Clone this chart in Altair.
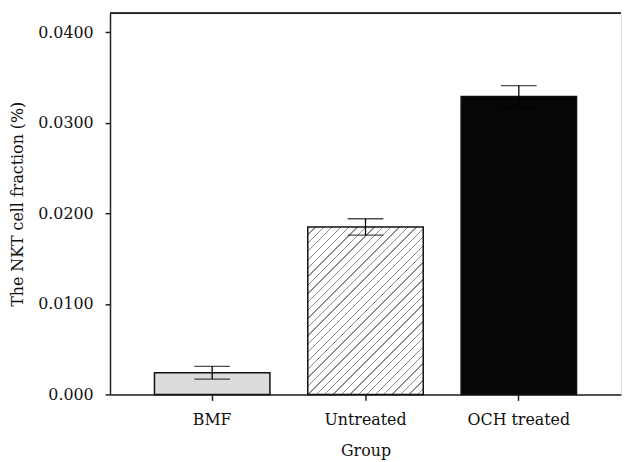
import altair as alt
import pandas as pd

groups = ["BMF", "Untreated", "OCH treated"]
means = [0.0024, 0.0185, 0.0329]
errors = [0.0007, 0.0009, 0.0012]
y_ticks = [0.0, 0.01, 0.02, 0.03, 0.04]

W, H = 516, 385
YMAX = 0.0421
PI, PO = 0.247, 0.29
FONT = "DejaVu Serif"

df = pd.DataFrame({"group": groups, "mean": means, "err": errors})
df["lo"] = df["mean"] - df["err"]
df["hi"] = df["mean"] + df["err"]

xsc = alt.Scale(domain=groups, paddingInner=PI, paddingOuter=PO)
ysc = alt.Scale(domain=[0, YMAX], nice=False, zero=True)

x_enc = alt.X("group:N", scale=xsc, sort=groups,
              axis=alt.Axis(title="Group", labelAngle=0, labelFont=FONT, labelFontSize=16,
                            titleFont=FONT, titleFontSize=16, titleFontWeight="normal",
                            labelColor="#111", titleColor="#111", domainColor="#222",
                            domainWidth=1.5, tickColor="#222", tickWidth=1.5, tickSize=6,
                            labelPadding=11, titlePadding=16))
y_enc = alt.Y("mean:Q", scale=ysc,
              axis=alt.Axis(title="The NKT cell fraction (%)", values=y_ticks,
                            labelExpr="datum.value == 0 ? '0.000' : format(datum.value, '.4f')",
                            labelFont=FONT, labelFontSize=16, titleFont=FONT, titleFontSize=16,
                            titleFontWeight="normal", labelColor="#111", titleColor="#111",
                            domainColor="#222", domainWidth=1.5, tickColor="#222", tickWidth=1.5,
                            tickSize=5, labelPadding=12, titlePadding=12, grid=False))

# hatch gradient for the Untreated bar (45 degree "/" lines)
step = W / (len(groups) - PI + 2 * PO)
bw = step * (1 - PI)
hh = means[1] / YMAX * H
L = bw + hh
a = L * bw / (bw * bw + hh * hh)
b = L * hh / (bw * bw + hh * hh)
period, lw = 8.5, 1.3
stops = []
k = 0
while k * period < L:
    t0 = k * period / L
    t1 = min((k * period + period - lw) / L, 1.0)
    t2 = min((k * period + period) / L, 1.0)
    stops += [alt.GradientStop(color="#ffffff", offset=t0),
              alt.GradientStop(color="#ffffff", offset=t1),
              alt.GradientStop(color="#8c8c8c", offset=t1),
              alt.GradientStop(color="#8c8c8c", offset=t2)]
    k += 1
hatch = alt.LinearGradient(gradient="linear", stops=stops, x1=0, y1=0, x2=a, y2=b)

fills = {"BMF": "#dcdcdc", "Untreated": hatch, "OCH treated": "#060606"}

base = alt.Chart(df)
bars = [
    base.transform_filter(alt.datum.group == g).mark_bar(
        fill=fills[g], stroke="#111", strokeWidth=1.5
    ).encode(x=x_enc, y=y_enc)
    for g in groups
]

ERR = "#000000"
err_rule = base.mark_rule(color=ERR, strokeWidth=1.3).encode(
    x=alt.X("group:N", scale=xsc, sort=groups), y="lo:Q", y2="hi:Q")
cap_hi = base.mark_tick(color=ERR, thickness=1.3, size=36).encode(
    x=alt.X("group:N", scale=xsc, sort=groups), y="hi:Q")
cap_lo = base.mark_tick(color=ERR, thickness=1.3, size=36).encode(
    x=alt.X("group:N", scale=xsc, sort=groups), y="lo:Q")

top_line = base.mark_rule(color="#222", strokeWidth=1.5).encode(
    x=alt.value(0), x2=alt.value(W), y=alt.value(0))

chart = alt.layer(*bars, err_rule, cap_hi, cap_lo, top_line).properties(
    width=W, height=H,
    padding={"left": 2, "top": 2, "right": 0, "bottom": 0},
).configure_view(stroke=None).configure(background="white")

chart.save("out.html", embed_options={"renderer": "svg", "actions": False})
